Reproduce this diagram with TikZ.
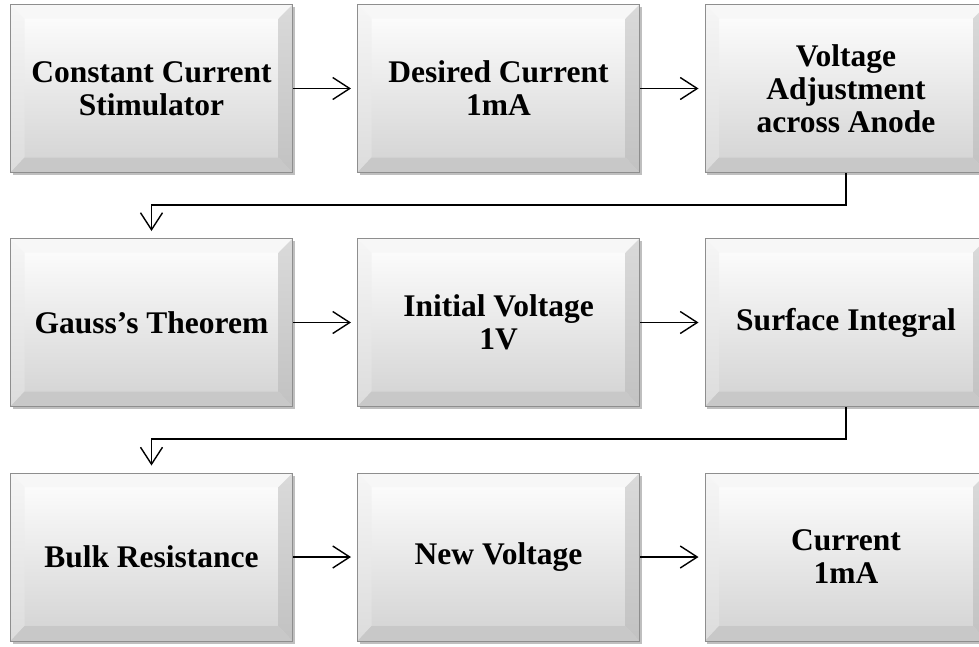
\documentclass[tikz,border=0pt]{standalone}
\usepackage{fontspec}
\setmainfont{Liberation Serif}
\usetikzlibrary{arrows.meta,shadows,calc}
\definecolor{bordergray}{HTML}{8E8E8E}
\definecolor{facebot}{HTML}{D2D2D2}
\definecolor{bevtop}{HTML}{F7F7F7}
\definecolor{bevleftA}{HTML}{F6F6F6}
\definecolor{bevleftB}{HTML}{DCDCDC}
\definecolor{bevrightA}{HTML}{DADADA}
\definecolor{bevrightB}{HTML}{C2C2C2}
\definecolor{bevbot}{HTML}{C8C8C8}
\tikzset{
  bevelbox/.style={rectangle, minimum width=282pt, minimum height=168pt, inner sep=0pt,
    draw=bordergray, line width=1pt, top color=white, bottom color=facebot,
    align=center, font=\bfseries\fontsize{31.5}{33}\selectfont,
    drop shadow={shadow xshift=2pt, shadow yshift=-2.5pt, fill=black, opacity=0.25},
    path picture={
      \path (path picture bounding box.north west) coordinate (pNW)
            (path picture bounding box.north east) coordinate (pNE)
            (path picture bounding box.south west) coordinate (pSW)
            (path picture bounding box.south east) coordinate (pSE);
      \path ([shift={(14pt,-14pt)}]pNW) coordinate (iNW)
            ([shift={(-14pt,-14pt)}]pNE) coordinate (iNE)
            ([shift={(14pt,15pt)}]pSW) coordinate (iSW)
            ([shift={(-14pt,15pt)}]pSE) coordinate (iSE);
      \fill[bevtop] (pNW) -- (pNE) -- (iNE) -- (iNW) -- cycle;
      \shade[top color=bevleftA, bottom color=bevleftB] (pNW) -- (iNW) -- (iSW) -- (pSW) -- cycle;
      \shade[top color=bevrightA, bottom color=bevrightB] (pNE) -- (pSE) -- (iSE) -- (iNE) -- cycle;
      \fill[bevbot] (pSW) -- (iSW) -- (iSE) -- (pSE) -- cycle;
    }},
  arr/.style={line width=1.4pt, -{Straight Barb[length=17pt,width=22pt,line width=1.4pt]}}
}
\begin{document}
\begin{tikzpicture}[x=1pt,y=-1pt]
\clip (0,0) rectangle (979,646);
\fill[white] (0,0) rectangle (979,646);
% row 1
\node[bevelbox] (a1) at (151.5,88.5) {Constant Current\\Stimulator};
\node[bevelbox] (a2) at (498.5,88.5) {Desired Current\\1mA};
\node[bevelbox] (a3) at (846,88.5) {Voltage\\Adjustment\\across Anode};
% row 2
\node[bevelbox] (b1) at (151.5,322.5) {Gauss’s Theorem};
\node[bevelbox] (b2) at (498.5,322.5) {Initial Voltage\\1V};
\node[bevelbox] (b3) at (846,322.5) {Surface Integral};
% row 3
\node[bevelbox] (c1) at (151.5,557) {Bulk Resistance};
\node[bevelbox] (c2) at (498.5,557) {New Voltage};
\node[bevelbox] (c3) at (846,557) {Current\\1mA};
% horizontal arrows
\draw[arr] (a1.east) -- ([xshift=-6pt]a2.west);
\draw[arr] (a2.east) -- ([xshift=-6pt]a3.west);
\draw[arr] (b1.east) -- ([xshift=-6pt]b2.west);
\draw[arr] (b2.east) -- ([xshift=-6pt]b3.west);
\draw[arr] (c1.east) -- ([xshift=-6pt]c2.west);
\draw[arr] (c2.east) -- ([xshift=-6pt]c3.west);
% loop connectors
\draw[arr] (a3.south) -- ++(0,32) -| ([yshift=7pt]b1.north);
\draw[arr] (b3.south) -- ++(0,32) -| ([yshift=7pt]c1.north);
\end{tikzpicture}
\end{document}
